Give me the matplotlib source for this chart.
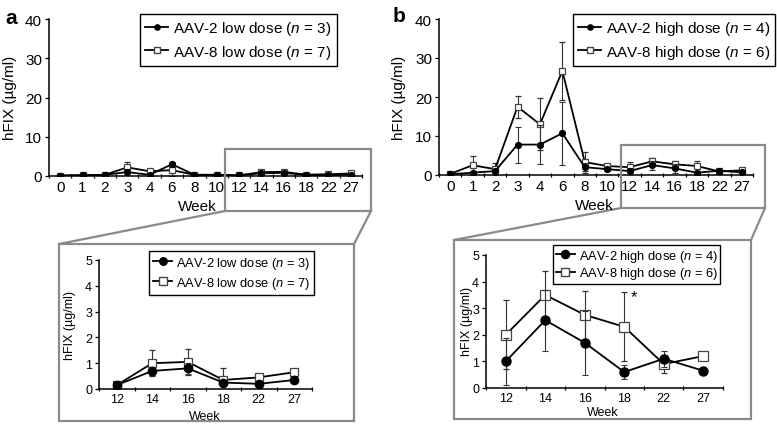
import numpy as np
import matplotlib.pyplot as plt
from matplotlib.patches import Rectangle
from matplotlib.lines import Line2D

plt.rcParams['font.family'] = ['Liberation Sans', 'DejaVu Sans']
plt.rcParams['mathtext.fontset'] = 'custom'
plt.rcParams['mathtext.it'] = 'Liberation Sans:italic'
plt.rcParams['mathtext.rm'] = 'Liberation Sans'

# data
weeks = ["0", "1", "2", "3", "4", "6", "8", "10", "12", "14", "16", "18", "22", "27"]

aav2_low = [0.1, 0.2, 0.3, 1.0, 0.3, 3.0, 0.3, 0.3, 0.15, 0.7, 0.8, 0.25, 0.2, 0.35]
aav2_low_err = [0.05, 0.1, 0.1, 0.8, 0.2, 0.6, 0.1, 0.1, 0.05, 0.15, 0.2, 0.1, 0.1, 0.1]
aav8_low = [0.1, 0.2, 0.3, 2.2, 1.2, 1.5, 0.3, 0.3, 0.15, 1.0, 1.05, 0.35, 0.45, 0.65]
aav8_low_err = [0.05, 0.1, 0.1, 1.3, 0.5, 1.5, 0.2, 0.1, 0.05, 0.5, 0.5, 0.45, 0.15, 0.1]

aav2_high = [0.2, 0.6, 1.0, 7.8, 7.8, 10.7, 2.0, 1.5, 1.0, 2.55, 1.7, 0.6, 1.1, 0.65]
aav2_high_err = [0.1, 0.3, 0.5, 4.6, 5.1, 8.1, 1.0, 0.4, 0.88, 1.15, 1.2, 0.25, 0.3, 0.0]
aav8_high = [0.3, 2.5, 1.5, 17.5, 13.0, 26.7, 3.3, 2.3, 2.0, 3.5, 2.75, 2.3, 0.9, 1.2]
aav8_high_err = [0.2, 2.3, 1.5, 2.8, 6.7, 7.5, 2.7, 0.5, 1.3, 0.9, 0.9, 1.3, 0.35, 0.0]

ZOOM_FROM = 8  # inset shows weeks 12..27

W, H = 777, 427
GRAY = "#8a8a8a"

fig = plt.figure(figsize=(W / 100, H / 100), dpi=100)


def px_axes(left, top, right, bottom):
    return fig.add_axes([left / W, 1 - bottom / H, (right - left) / W, (bottom - top) / H])


def fpt(x, y):
    return (x / W, 1 - y / H)


def draw_panel(ax, vals2, err2, vals8, err8, labels, ylim, yticks, ms, fs,
               leg_txt, leg_at, lfs, bpad, lspace):
    x = np.arange(len(labels))
    ax.errorbar(x, vals8, yerr=err8, color="black", lw=1.3, marker="s", ms=ms,
                mfc="white", mec="#444444", mew=0.9, ecolor="#333333", elinewidth=0.8,
                capsize=2.5, capthick=0.8, zorder=2)
    ax.errorbar(x, vals2, yerr=err2, color="black", lw=1.3, marker="o", ms=ms,
                mfc="black", mec="black", ecolor="#333333", elinewidth=0.8,
                capsize=2.5, capthick=0.8, zorder=3)
    ax.set_ylim(*ylim)
    ax.set_yticks(yticks)
    ax.set_xlim(-0.5 if len(labels) < 10 else -0.25, len(labels) - 0.5)
    ax.set_xticks(x)
    ax.set_xticklabels(labels)
    ax.set_xticks(np.arange(-0.5, len(labels)), minor=True)
    ax.tick_params(axis="x", which="major", length=0, labelsize=fs, pad=3)
    ax.tick_params(axis="x", which="minor", length=3, width=0.9, direction="inout")
    ax.tick_params(axis="y", length=3, width=0.9, labelsize=fs, pad=2)
    for s in ["top", "right"]:
        ax.spines[s].set_visible(False)
    for s in ["left", "bottom"]:
        ax.spines[s].set_linewidth(1.1)
    h2 = Line2D([], [], color="black", lw=1.3, marker="o", ms=ms * 0.9, mfc="black")
    h8 = Line2D([], [], color="black", lw=1.3, marker="s", ms=ms * 0.9, mfc="white", mec="#444444")
    leg = ax.legend([h2, h8], leg_txt, loc="upper left", fontsize=lfs,
                    bbox_to_anchor=fpt(*leg_at), bbox_transform=fig.transFigure,
                    frameon=True, fancybox=False, framealpha=1, edgecolor="black",
                    handlelength=1.5, handletextpad=0.3, borderpad=bpad, labelspacing=lspace,
                    borderaxespad=0)
    leg.get_frame().set_linewidth(1.0)
    leg.set_zorder(5)


# top panels
ax_a = px_axes(49, 20, 362, 177)
draw_panel(ax_a, aav2_low, aav2_low_err, aav8_low, aav8_low_err, weeks,
           (0, 40), [0, 10, 20, 30, 40], 4.2, 11,
           ["AAV-2 low dose ($n$ = 3)", "AAV-8 low dose ($n$ = 7)"], (140, 15), 11, 0.35, 0.35)

ax_b = px_axes(439, 20, 753, 176)
draw_panel(ax_b, aav2_high, aav2_high_err, aav8_high, aav8_high_err, weeks,
           (0, 40), [0, 10, 20, 30, 40], 4.2, 11,
           ["AAV-2 high dose ($n$ = 4)", "AAV-8 high dose ($n$ = 6)"], (573, 15), 11, 0.35, 0.35)

# insets
ax_ai = px_axes(99, 261, 312, 390)
draw_panel(ax_ai, aav2_low[ZOOM_FROM:], aav2_low_err[ZOOM_FROM:],
           aav8_low[ZOOM_FROM:], aav8_low_err[ZOOM_FROM:], weeks[ZOOM_FROM:],
           (0, 5), [0, 1, 2, 3, 4, 5], 6, 9,
           ["AAV-2 low dose ($n$ = 3)", "AAV-8 low dose ($n$ = 7)"], (149, 252), 9.3, 0.3, 0.3)

ax_bi = px_axes(486, 256, 723, 389)
draw_panel(ax_bi, aav2_high[ZOOM_FROM:], aav2_high_err[ZOOM_FROM:],
           aav8_high[ZOOM_FROM:], aav8_high_err[ZOOM_FROM:], weeks[ZOOM_FROM:],
           (0, 5), [0, 1, 2, 3, 4, 5], 6.5, 9,
           ["AAV-2 high dose ($n$ = 4)", "AAV-8 high dose ($n$ = 6)"], (553, 246), 9.3, 0.2, 0.12)
ax_bi.text(3.25, 3.45, "*", fontsize=12, ha="center", va="center")

# axis labels
for (x, y, fs) in [(10, 98, 11), (399, 98, 11), (70, 326, 9), (467, 322, 9)]:
    fig.text(*fpt(x, y), "hFIX (µg/ml)", rotation=90, ha="center", va="center", fontsize=fs)
for (x, y, fs) in [(197, 207, 11), (594, 206, 11), (205, 417, 9), (603, 413, 9)]:
    fig.text(*fpt(x, y), "Week", ha="center", va="center", fontsize=fs)

fig.text(*fpt(11, 18), "a", fontsize=15, fontweight="bold", ha="center", va="center")
fig.text(*fpt(399, 17), "b", fontsize=15, fontweight="bold", ha="center", va="center")

# zoom boxes and connector lines
boxes = [(225, 150, 371, 212), (59, 245, 354, 422), (621, 146, 765, 209), (454, 241, 751, 420)]
for (l, t, r, b) in boxes:
    fig.patches.append(Rectangle(fpt(l, b), (r - l) / W, (b - t) / H, transform=fig.transFigure,
                                 fill=False, edgecolor=GRAY, lw=1.6, zorder=10))
links = [((225, 212), (59, 245)), ((371, 212), (354, 245)),
         ((621, 209), (454, 241)), ((765, 209), (751, 241))]
for p0, p1 in links:
    (x0, y0), (x1, y1) = fpt(*p0), fpt(*p1)
    fig.lines.append(Line2D([x0, x1], [y0, y1], transform=fig.transFigure, color=GRAY, lw=1.6))

fig.savefig("out.png", dpi=100)
